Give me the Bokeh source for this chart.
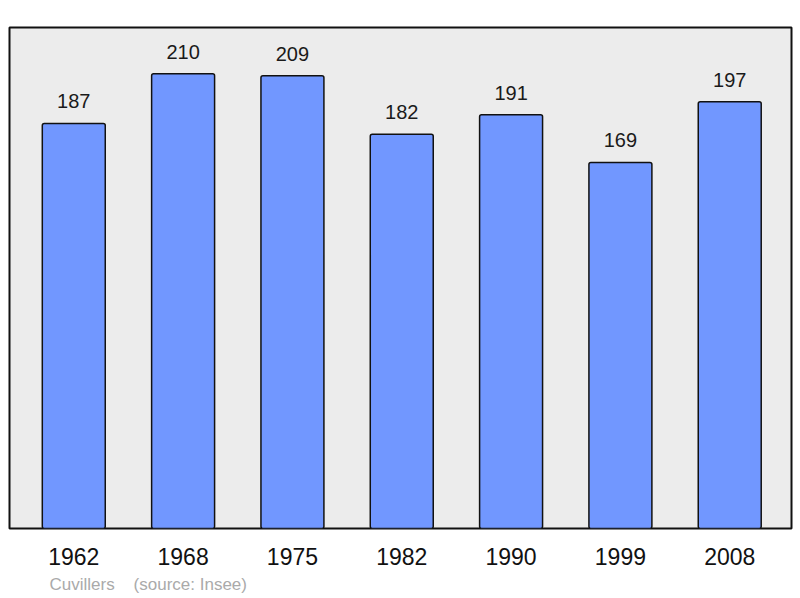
from bokeh.plotting import figure
from bokeh.models import Range1d, FixedTicker, Title
from bokeh.core.properties import value
from bokeh.embed import file_html
from bokeh.resources import INLINE

years = ["1962", "1968", "1975", "1982", "1990", "1999", "2008"]
population = [187, 210, 209, 182, 191, 169, 197]
commune = "Cuvillers"
source = "(source: Insee)"

xs = list(range(len(years)))

p = figure(width=800, height=598, output_backend="svg", toolbar_location=None,
           x_range=Range1d(-0.588, 6.565), y_range=Range1d(0, 231.3),
           min_border_left=9, min_border_right=9, min_border_top=27, min_border_bottom=70)

p.background_fill_color = "#ececec"
p.border_fill_color = "white"
p.outline_line_color = "#111111"
p.outline_line_width = 2
p.xgrid.visible = False
p.ygrid.visible = False
p.yaxis.visible = False

p.vbar(x=xs, top=population, bottom=0, width=0.576, fill_color="#7197ff",
       line_color="#111111", line_width=1.5, border_radius=2)

p.text(x=xs, y=population, text=[str(v) for v in population], y_offset=-22,
       text_align="center", text_baseline="alphabetic", text_font=value("Liberation Sans"),
       text_font_size="20px", text_color="#1a1a1a")

ax = p.xaxis[0]
ax.ticker = FixedTicker(ticks=xs)
ax.major_label_overrides = {i: y for i, y in enumerate(years)}
ax.axis_line_color = None
ax.major_tick_line_color = None
ax.minor_tick_line_color = None
ax.major_tick_out = 0
ax.major_label_standoff = 19
ax.major_label_text_font = "Liberation Sans"
ax.major_label_text_font_size = "23px"
ax.major_label_text_color = "#111111"

footer = commune + "\u00a0" * 4 + source
p.add_layout(Title(text=footer, align="left", offset=40, standoff=10,
                   text_font="Liberation Sans", text_font_size="17px",
                   text_font_style="normal", text_color="#aaaaaa"), "below")

open("out.html", "w").write(file_html(p, INLINE))
